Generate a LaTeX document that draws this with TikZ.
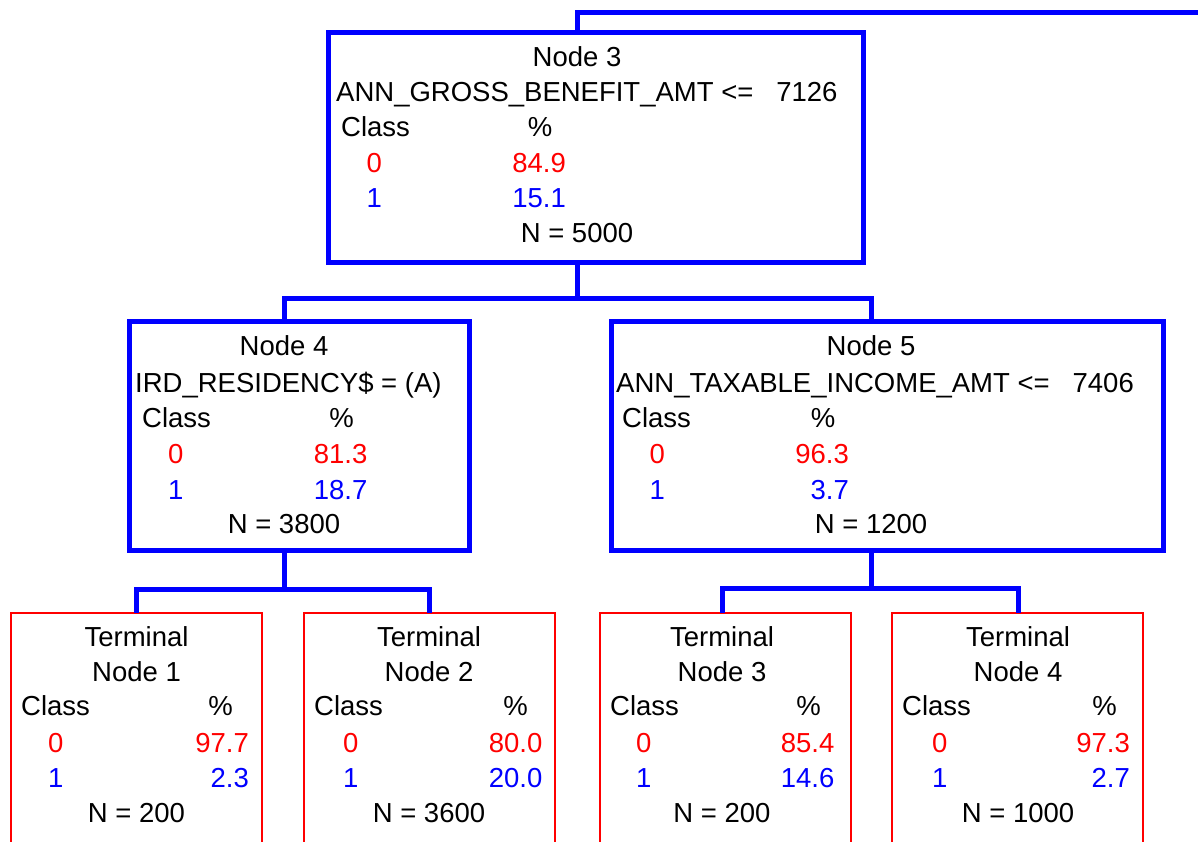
\documentclass[tikz,border=0pt]{standalone}
\usepackage{fontspec}
\setmainfont{Liberation Sans}
\usepackage{xcolor}
\usepackage{tikz}
\usetikzlibrary{calc}

\tikzset{
  splitbox/.style={draw=blue, line width=5pt, inner sep=0pt, outer sep=0pt, minimum height=229pt, anchor=north west},
  termbox/.style={draw=red, line width=2pt, inner sep=0pt, outer sep=0pt, minimum width=251pt, minimum height=260pt, anchor=north west},
  lbl/.style={inner sep=0pt, font=\fontsize{27.5}{33}\selectfont},
  zerolbl/.style={lbl, text=red},
  onelbl/.style={lbl, text=blue},
  link/.style={draw=blue, line width=5pt}
}

\begin{document}
\begin{tikzpicture}[x=1pt, y=-1pt]
  \useasboundingbox (0,0) rectangle (1198,842);

  % Split Node 3
  \node[splitbox, minimum width=535.5pt] (n3) at (328,33) {};
  \node[lbl, anchor=base] (n3title) at (577,67) {Node 3};
  \node[lbl, anchor=base west] (n3split) at (336,102) {ANN\_GROSS\_BENEFIT\_AMT <= \ \ 7126};
  \node[lbl, anchor=base west] (n3class) at (341,137) {Class};
  \node[lbl, anchor=base] (n3pct) at (540,137) {\%};
  \node[zerolbl, anchor=base west] (n3zero) at (366.5,173) {0};
  \node[zerolbl, anchor=base east] (n3val0) at (566,173) {84.9};
  \node[onelbl, anchor=base west] (n3one) at (366.5,208) {1};
  \node[onelbl, anchor=base east] (n3val1) at (566,208) {15.1};
  \node[lbl, anchor=base] (n3n) at (577,243) {N = 5000};

  % Split Node 4
  \node[splitbox, minimum width=340pt] (n4) at (129.5,321) {};
  \node[lbl, anchor=base] (n4title) at (284,355) {Node 4};
  \node[lbl, anchor=base west] (n4split) at (135,392) {IRD\_RESIDENCY\$ = (A)};
  \node[lbl, anchor=base west] (n4class) at (142,427) {Class};
  \node[lbl, anchor=base] (n4pct) at (341.5,427) {\%};
  \node[zerolbl, anchor=base west] (n4zero) at (168,463) {0};
  \node[zerolbl, anchor=base east] (n4val0) at (367.5,463) {81.3};
  \node[onelbl, anchor=base west] (n4one) at (168,499) {1};
  \node[onelbl, anchor=base east] (n4val1) at (367.5,499) {18.7};
  \node[lbl, anchor=base] (n4n) at (284,533) {N = 3800};

  % Split Node 5
  \node[splitbox, minimum width=552.5pt] (n5) at (611,321) {};
  \node[lbl, anchor=base] (n5title) at (871,355) {Node 5};
  \node[lbl, anchor=base west] (n5split) at (616,392) {ANN\_TAXABLE\_INCOME\_AMT <= \ \ 7406};
  \node[lbl, anchor=base west] (n5class) at (622,427) {Class};
  \node[lbl, anchor=base] (n5pct) at (823,427) {\%};
  \node[zerolbl, anchor=base west] (n5zero) at (649.5,463) {0};
  \node[zerolbl, anchor=base east] (n5val0) at (849,463) {96.3};
  \node[onelbl, anchor=base west] (n5one) at (649.5,499) {1};
  \node[onelbl, anchor=base east] (n5val1) at (849,499) {3.7};
  \node[lbl, anchor=base] (n5n) at (871,533) {N = 1200};

  % Terminal Node 1
  \node[termbox] (t1) at (10.5,613) {};
  \node[lbl, anchor=base] (t1title) at (136.5,646) {Terminal};
  \node[lbl, anchor=base] (t1sub) at (136.5,681) {Node 1};
  \node[lbl, anchor=base west] (t1class) at (21,715) {Class};
  \node[lbl, anchor=base east] (t1pct) at (233,715) {\%};
  \node[zerolbl, anchor=base west] (t1zero) at (48,752) {0};
  \node[zerolbl, anchor=base east] (t1val0) at (249,752) {97.7};
  \node[onelbl, anchor=base west] (t1one) at (48,787) {1};
  \node[onelbl, anchor=base east] (t1val1) at (249,787) {2.3};
  \node[lbl, anchor=base] (t1n) at (136.5,822) {N = 200};

  % Terminal Node 2
  \node[termbox] (t2) at (304,613) {};
  \node[lbl, anchor=base] (t2title) at (429,646) {Terminal};
  \node[lbl, anchor=base] (t2sub) at (429,681) {Node 2};
  \node[lbl, anchor=base west] (t2class) at (314,715) {Class};
  \node[lbl, anchor=base east] (t2pct) at (528,715) {\%};
  \node[zerolbl, anchor=base west] (t2zero) at (343,752) {0};
  \node[zerolbl, anchor=base east] (t2val0) at (542.5,752) {80.0};
  \node[onelbl, anchor=base west] (t2one) at (343,787) {1};
  \node[onelbl, anchor=base east] (t2val1) at (542.5,787) {20.0};
  \node[lbl, anchor=base] (t2n) at (429,822) {N = 3600};

  % Terminal Node 3
  \node[termbox] (t3) at (600,613) {};
  \node[lbl, anchor=base] (t3title) at (722,646) {Terminal};
  \node[lbl, anchor=base] (t3sub) at (722,681) {Node 3};
  \node[lbl, anchor=base west] (t3class) at (610,715) {Class};
  \node[lbl, anchor=base east] (t3pct) at (821,715) {\%};
  \node[zerolbl, anchor=base west] (t3zero) at (636,752) {0};
  \node[zerolbl, anchor=base east] (t3val0) at (834.5,752) {85.4};
  \node[onelbl, anchor=base west] (t3one) at (636,787) {1};
  \node[onelbl, anchor=base east] (t3val1) at (834.5,787) {14.6};
  \node[lbl, anchor=base] (t3n) at (722,822) {N = 200};

  % Terminal Node 4
  \node[termbox] (t4) at (892,613) {};
  \node[lbl, anchor=base] (t4title) at (1018,646) {Terminal};
  \node[lbl, anchor=base] (t4sub) at (1018,681) {Node 4};
  \node[lbl, anchor=base west] (t4class) at (902,715) {Class};
  \node[lbl, anchor=base east] (t4pct) at (1117,715) {\%};
  \node[zerolbl, anchor=base west] (t4zero) at (932,752) {0};
  \node[zerolbl, anchor=base east] (t4val0) at (1130,752) {97.3};
  \node[onelbl, anchor=base west] (t4one) at (932,787) {1};
  \node[onelbl, anchor=base east] (t4val1) at (1130,787) {2.7};
  \node[lbl, anchor=base] (t4n) at (1018,822) {N = 1000};

  % Connectors
  \coordinate (up3) at (1210,12.5);
  \coordinate (bar3) at (577,298);
  \coordinate (bar4) at (284,589);
  \coordinate (bar5) at (871,588.5);
  \draw[link] (n3title |- n3.north) |- (up3);
  \draw[link] (n3title |- n3.south) -- (bar3);
  \draw[link] (n4title |- n4.north) |- (bar3) -| (n5title |- n5.north);
  \draw[link] (n4title |- n4.south) -- (bar4);
  \draw[link] (t1title |- t1.north) |- (bar4) -| (t2title |- t2.north);
  \draw[link] (n5title |- n5.south) -- (bar5);
  \draw[link] (t3title |- t3.north) |- (bar5) -| (t4title |- t4.north);
\end{tikzpicture}
\end{document}
